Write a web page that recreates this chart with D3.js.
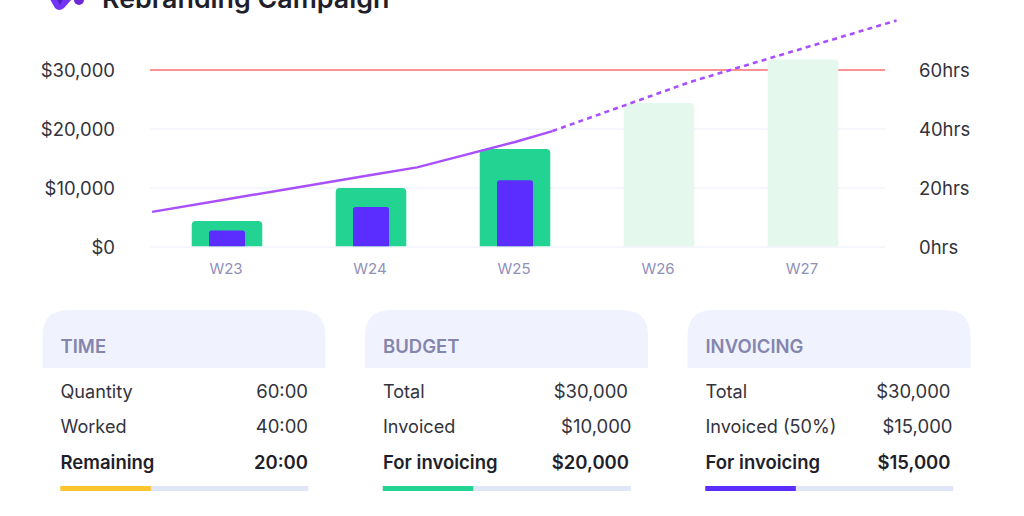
<!DOCTYPE html>
<html>
<head>
<meta charset="utf-8">
<script src="https://cdn.jsdelivr.net/npm/d3@7"></script>
<style>
    html, body { margin: 0; padding: 0; background: #fff; overflow: hidden; }
    svg { display: block; font-family: Inter, sans-serif; }
    .axis .domain, .axis line { display: none; }
    .axis text { font-family: Inter, sans-serif; }
</style>
</head>
<body>
<svg id="chart" width="1024" height="516"></svg>
<script>
const title = "Rebranding Campaign";

const weeks = ["W23", "W24", "W25", "W26", "W27"];
const weekNumbers = [23, 27];
const budgetBars = [4400, 10000, 16600, 24400, 31800];
const isPlanned = [false, false, false, true, true];
const invoicedBars = [2800, 6800, 11300];
const budgetLimit = 30000;

const budgetTicks = [0, 10000, 20000, 30000];
const hourTicks = [0, 20, 40, 60];

const lineWeeks = [22.48, 23, 24, 24.32, 25, 25.26];
const lineHours = [11.9, 16.2, 24.4, 27, 35.6, 39.3];
const dashedWeeks = [25.26, 26.22, 27.65];
const dashedHours = [39.3, 56, 76.8];

const cardTitles = ["TIME", "BUDGET", "INVOICING"];
const cardLabels = [
    ["Quantity", "Worked", "Remaining"],
    ["Total", "Invoiced", "For invoicing"],
    ["Total", "Invoiced (50%)", "For invoicing"]
];
const cardValues = [
    ["60:00", "40:00", "20:00"],
    ["$30,000", "$10,000", "$20,000"],
    ["$30,000", "$15,000", "$15,000"]
];
const cardProgress = [0.365, 0.365, 0.365];
const cardColors = ["#fec52e", "#22d391", "#5b2dff"];

// the values don't share a right edge in the design, offsets from the card's left
const valueEdges = [
    [265.5, 265.5, 265.5],
    [263, 266.5, 264],
    [263, 265, 263]
];

const svg = d3.select("#chart");

// top rounded bar, sits on the baseline
function roundedBar(x, y, w, h, r) {
    return `M${x},${y + h}V${y + r}Q${x},${y} ${x + r},${y}H${x + w - r}Q${x + w},${y} ${x + w},${y + r}V${y + h}Z`;
}

// header, the crop cuts most of it off
const logo = svg.append("g");
logo.append("path")
    .attr("d", "M47,-6L70,-6L72,-1L64,8Q59,12 55,8Z")
    .attr("fill", "#7434f5");
logo.append("path")
    .attr("d", "M54,-6L66,-6L60,5Z")
    .attr("fill", "#4a1fc4");
logo.append("circle").attr("cx", 79).attr("cy", 0).attr("r", 5).attr("fill", "#6d28d9");
svg.append("text")
    .attr("x", 102).attr("y", 7.5)
    .attr("font-size", 26.8).attr("font-weight", 600).attr("fill", "#1f1f2b")
    .text(title);

// scales
const x = d3.scaleBand().domain(weeks).range([155, 875]).paddingInner(0.51).paddingOuter(0.255);
const xInner = d3.scaleBand().domain(weeks).range([155, 875]).paddingInner(0.75).paddingOuter(0.375);
const xWeek = d3.scaleLinear().domain(weekNumbers).range([227, 803]);
const yBudget = d3.scaleLinear().domain([0, 30000]).range([247, 70]);
const yHours = d3.scaleLinear().domain([0, 60]).range([247, 70]);

// grid
svg.append("g").selectAll("line")
    .data(budgetTicks)
    .join("line")
    .attr("x1", 150).attr("x2", 885)
    .attr("y1", d => yBudget(d)).attr("y2", d => yBudget(d))
    .attr("stroke", "#ecedfa").attr("stroke-width", 1);

svg.append("line")
    .attr("x1", 150).attr("x2", 885)
    .attr("y1", yBudget(budgetLimit)).attr("y2", yBudget(budgetLimit))
    .attr("stroke", "#ff6f71").attr("stroke-width", 1.4);

// bars
svg.append("g").selectAll("path")
    .data(budgetBars)
    .join("path")
    .attr("d", (d, i) => roundedBar(x(weeks[i]), yBudget(d), x.bandwidth(), yBudget(0) - 0.8 - yBudget(d), 4))
    .attr("fill", (d, i) => isPlanned[i] ? "#e4f8ee" : "#22d391");

svg.append("g").selectAll("path")
    .data(invoicedBars)
    .join("path")
    .attr("d", (d, i) => roundedBar(xInner(weeks[i]), yBudget(d), xInner.bandwidth(), yBudget(0) - 0.8 - yBudget(d), 2.5))
    .attr("fill", "#5b2dff");

// hours line
const hoursLine = d3.line()
    .x(d => xWeek(d[0]))
    .y(d => yHours(d[1]));

svg.append("path")
    .datum(d3.zip(lineWeeks, lineHours))
    .attr("d", hoursLine)
    .attr("fill", "none").attr("stroke", "#a94fff").attr("stroke-width", 2.4);

svg.append("path")
    .datum(d3.zip(dashedWeeks, dashedHours))
    .attr("d", hoursLine)
    .attr("fill", "none").attr("stroke", "#a94fff").attr("stroke-width", 2.6)
    .attr("stroke-dasharray", "5 4.2");

// axes
const bottomAxis = svg.append("g")
    .attr("class", "axis")
    .attr("transform", "translate(-1,259)")
    .call(d3.axisBottom(x).tickSize(0).tickPadding(0));
bottomAxis.selectAll("text")
    .attr("font-size", 15).attr("fill", "#9090b8").attr("dy", "1em");

const leftAxis = svg.append("g")
    .attr("class", "axis")
    .attr("transform", "translate(150,1)")
    .call(d3.axisLeft(yBudget).tickValues(budgetTicks).tickSize(0).tickPadding(35)
        .tickFormat(d => "$" + d3.format(",")(d)));
leftAxis.selectAll("text").attr("font-size", 18.5).attr("fill", "#33333d");

const rightAxis = svg.append("g")
    .attr("class", "axis")
    .attr("transform", "translate(885,1)")
    .call(d3.axisRight(yHours).tickValues(hourTicks).tickSize(0).tickPadding(34)
        .tickFormat(d => d + "hrs"));
rightAxis.selectAll("text").attr("font-size", 18.5).attr("fill", "#33333d");

// cards under the chart
const xCard = d3.scaleBand().domain(cardTitles).range([42.5, 970.5]).paddingInner(39.5 / 322.5);
const yRow = d3.scalePoint().domain([0, 1, 2]).range([397.5, 468.5]);
const progress = d3.scaleLinear().domain([0, 1]).range([0, 248]);

cardTitles.forEach((name, c) => {
    const card = svg.append("g").attr("transform", `translate(${xCard(name)},0)`);
    const w = xCard.bandwidth();

    card.append("path")
        .attr("d", roundedBar(0, 310, w, 58, 26))
        .attr("fill", "#f0f3fe");
    card.append("text")
        .attr("x", 18).attr("y", 352.5)
        .attr("font-size", 18.5).attr("font-weight", 600).attr("fill", "#8585ad")
        .text(name);

    cardLabels[c].forEach((label, r) => {
        const bold = r === 2 ? 600 : 400;
        const colour = r === 2 ? "#1f1f2b" : "#33333d";
        card.append("text")
            .attr("x", 18).attr("y", yRow(r))
            .attr("font-size", r === 2 ? 18.5 : 18.1).attr("font-weight", bold).attr("fill", colour)
            .text(label);
        card.append("text")
            .attr("x", valueEdges[c][r]).attr("y", yRow(r))
            .attr("text-anchor", "end")
            .attr("font-size", 18.5).attr("font-weight", bold).attr("fill", colour)
            .text(cardValues[c][r]);
    });

    card.append("rect")
        .attr("x", 17.8).attr("y", 486)
        .attr("width", progress(1)).attr("height", 5)
        .attr("fill", "#e0e6f7");
    card.append("rect")
        .attr("x", 17.8).attr("y", 486)
        .attr("width", progress(cardProgress[c])).attr("height", 5)
        .attr("fill", cardColors[c]);
});
</script>
</body>
</html>
